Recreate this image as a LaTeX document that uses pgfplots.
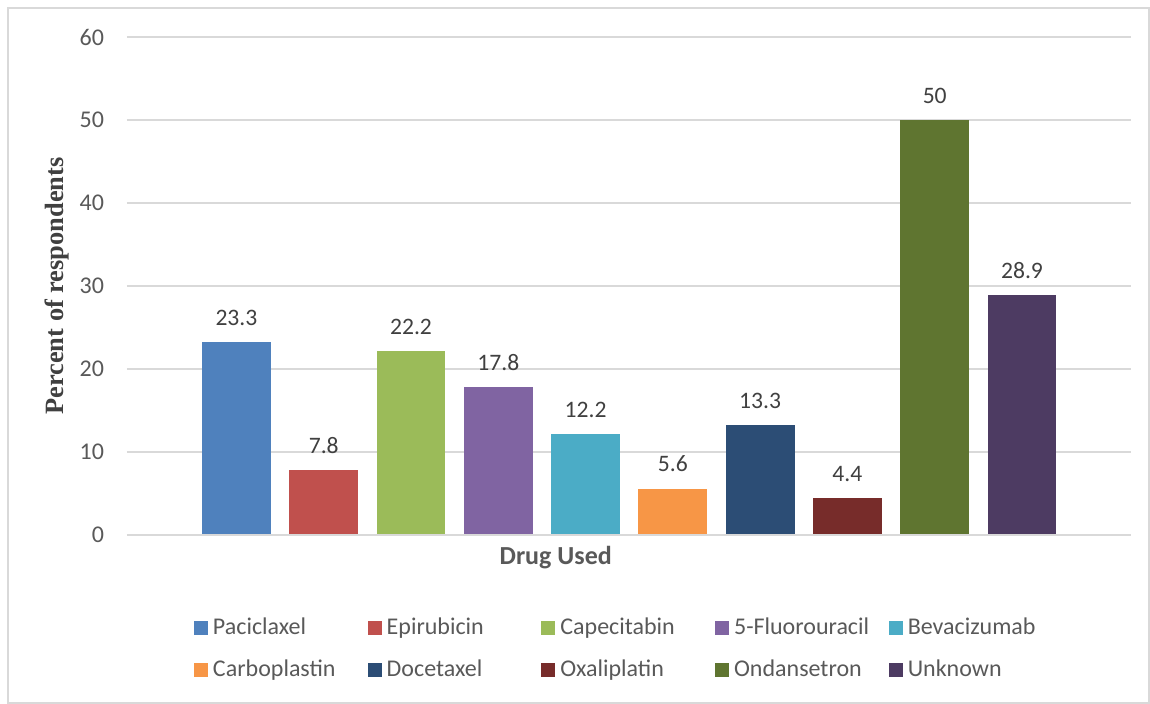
\documentclass[border=0pt]{standalone}
\usepackage{pgfplots}
\pgfplotsset{compat=1.18}
\usepackage{fontspec}
\setmainfont{Carlito}
\newfontfamily\timesfont{Liberation Serif}
\definecolor{c1}{HTML}{4F81BD}
\definecolor{c2}{HTML}{C0504D}
\definecolor{c3}{HTML}{9BBB59}
\definecolor{c4}{HTML}{8064A2}
\definecolor{c5}{HTML}{4BACC6}
\definecolor{c6}{HTML}{F79646}
\definecolor{c7}{HTML}{2C4D75}
\definecolor{c8}{HTML}{772C2A}
\definecolor{c9}{HTML}{5F7530}
\definecolor{c10}{HTML}{4D3B62}
\definecolor{gridc}{HTML}{D9D9D9}
\definecolor{tickc}{HTML}{595959}
\definecolor{labc}{HTML}{404040}
\newcommand{\lbl}[1]{\makebox[79.85pt][l]{\hspace{2.5pt}#1}}
\begin{document}
\begin{tikzpicture}
\path[use as bounding box] (-63.5pt,-84.5pt) rectangle (511.5pt,267.5pt);
\draw[gridc, line width=0.8pt] (-59.5pt,-84pt) rectangle (511pt,263.5pt);
\begin{axis}[
  scale only axis,
  width=502pt, height=249pt,
  xmin=-1.254, xmax=10.249,
  ymin=0, ymax=60,
  ytick={0,10,...,60},
  xtick=\empty,
  axis line style={draw=none},
  ymajorgrids,
  grid style={gridc, line width=0.6pt},
  major tick length=0pt,
  tick label style={font=\fontsize{12}{14}\selectfont, text=tickc},
  yticklabel style={xshift=-8pt},
  /pgf/number format/assume math mode=true,
  ylabel={\timesfont\bfseries Percent of respondents},
  every axis y label/.style={at={(axis description cs:0,0.5)}, xshift=-35pt, rotate=90, anchor=center, font=\fontsize{13.2}{15}\selectfont, text=labc},
  xlabel={\bfseries Drug Used},
  every axis x label/.style={at={(axis description cs:0.427,0)}, yshift=-11.5pt, anchor=center, font=\fontsize{13}{15}\selectfont, text=tickc},
  bar width=0.79,
  nodes near coords,
  every node near coord/.append style={font=\fontsize{11.8}{14}\selectfont, text=labc, anchor=base, inner sep=0pt, yshift=8.3pt},
  legend columns=5,
  legend cell align=left,
  legend image code/.code={\fill[#1] (0pt,-3.5pt) rectangle (7pt,3.5pt);},
  legend style={draw=none, fill=none, inner sep=0pt, outer sep=0pt, font=\fontsize{12}{14}\selectfont, text=tickc,
    at={(axis description cs:0.06673,-0.1667)}, anchor=north west,
    column sep=0pt, row sep=11pt,
    nodes={inner sep=0pt}},
]
\addplot[ybar, bar shift=0pt, fill=c1, draw=none] coordinates {(0,23.3)};
\addlegendentry{\lbl{Paciclaxel}}
\addplot[ybar, bar shift=0pt, fill=c2, draw=none] coordinates {(1,7.8)};
\addlegendentry{\lbl{Epirubicin}}
\addplot[ybar, bar shift=0pt, fill=c3, draw=none] coordinates {(2,22.2)};
\addlegendentry{\lbl{Capecitabin}}
\addplot[ybar, bar shift=0pt, fill=c4, draw=none] coordinates {(3,17.8)};
\addlegendentry{\lbl{5-Fluorouracil}}
\addplot[ybar, bar shift=0pt, fill=c5, draw=none] coordinates {(4,12.2)};
\addlegendentry{\lbl{Bevacizumab}}
\addplot[ybar, bar shift=0pt, fill=c6, draw=none] coordinates {(5,5.6)};
\addlegendentry{\lbl{Carboplastin}}
\addplot[ybar, bar shift=0pt, fill=c7, draw=none] coordinates {(6,13.3)};
\addlegendentry{\lbl{Docetaxel}}
\addplot[ybar, bar shift=0pt, fill=c8, draw=none] coordinates {(7,4.4)};
\addlegendentry{\lbl{Oxaliplatin}}
\addplot[ybar, bar shift=0pt, fill=c9, draw=none] coordinates {(8,50)};
\addlegendentry{\lbl{Ondansetron}}
\addplot[ybar, bar shift=0pt, fill=c10, draw=none] coordinates {(9,28.9)};
\addlegendentry{\lbl{Unknown}}
\draw[gridc, line width=1pt] (rel axis cs:0,0) -- (rel axis cs:1,0);
\end{axis}
\end{tikzpicture}
\end{document}
